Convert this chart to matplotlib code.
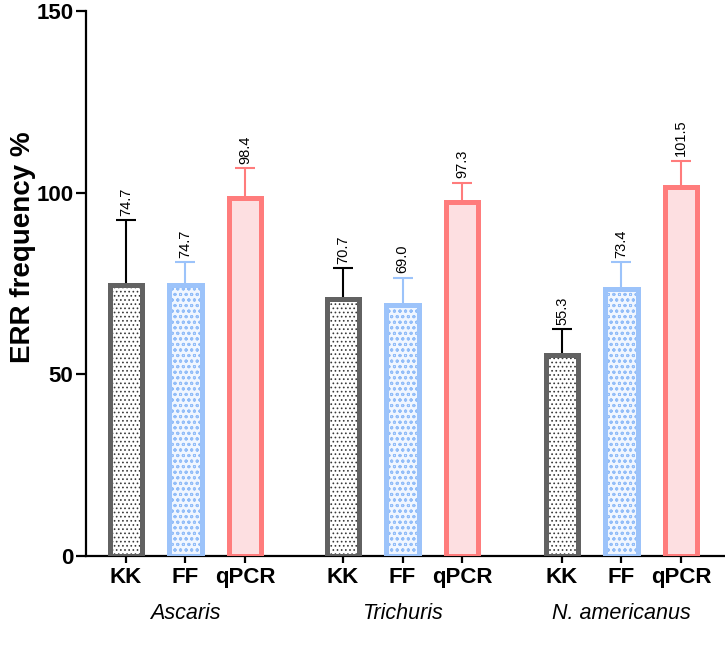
import matplotlib
matplotlib.use("Agg")
import matplotlib.pyplot as plt
import numpy as np

plt.rcParams['font.family'] = ['Liberation Sans', 'DejaVu Sans']
plt.rcParams['hatch.linewidth'] = 0.7

groups = ["Ascaris", "Trichuris", "N. americanus"]
methods = ["KK", "FF", "qPCR"]
means = {
    "KK": [74.7, 70.7, 55.3],
    "FF": [74.7, 69.0, 73.4],
    "qPCR": [98.4, 97.3, 101.5],
}
err_up = {
    "KK": [17.7, 8.5, 7.1],
    "FF": [6.1, 7.5, 7.4],
    "qPCR": [8.3, 5.4, 7.3],
}
group_starts = [0.0, 3.65, 7.33]

edge_colors = {"KK": "#626262", "FF": "#9CC3FA", "qPCR": "#FF7C7C"}
face_colors = {"KK": "#FFFFFF", "FF": "#F0F6FF", "qPCR": "#FDDFE1"}
hatch_colors = {"KK": "#3A3A3A", "FF": "#92BDF8", "qPCR": None}
hatches = {"KK": "....", "FF": "ooo", "qPCR": None}
err_colors = {"KK": "#000000", "FF": "#9CC3FA", "qPCR": "#FF7C7C"}

fig = plt.figure(figsize=(7.25, 6.68), dpi=100)
y0_px, y150_px = 556.0, 11.0
ax = fig.add_axes([86/725, (668-y0_px)/668, 1-86/725, (y0_px-y150_px)/668])

width = 0.55
xticks = []
xlabels = []
for gi, g in enumerate(groups):
    for mi, m in enumerate(methods):
        x = group_starts[gi] + mi
        v = means[m][gi]
        e = err_up[m][gi]
        xticks.append(x)
        xlabels.append(m)
        ax.errorbar([x], [v], yerr=[[0], [e]], fmt='none', ecolor=err_colors[m],
                    elinewidth=1.5, capsize=7, capthick=1.5, zorder=1)
        if hatches[m]:
            ax.bar(x, v, width=width, color=face_colors[m], edgecolor=hatch_colors[m],
                   hatch=hatches[m], linewidth=0, zorder=2)
        else:
            ax.bar(x, v, width=width, color=face_colors[m], linewidth=0, zorder=2)
        ax.bar(x, v, width=width, fill=False, edgecolor=edge_colors[m], linewidth=3.6, zorder=3)
        ax.text(x, v + e + 1.3, f"{v:.1f}", rotation=90, ha='center', va='bottom',
                fontsize=10.5, color='black')
    ax.text(group_starts[gi] + 1, -15.8, g, style='italic', ha='center', va='center',
            fontsize=15.5)

ax.set_xlim(-0.672, 10.07)
ax.set_ylim(0, 150)
ax.set_yticks([0, 50, 100, 150])
ax.set_yticklabels(["0", "50", "100", "150"], fontsize=16, fontweight='bold')
ax.set_xticks(xticks)
ax.set_xticklabels(xlabels, fontsize=16, fontweight='bold')
ax.tick_params(axis='y', direction='out', length=7, width=1.6, pad=2)
ax.tick_params(axis='x', direction='out', length=5, width=1.6, pad=3)
for s in ['top', 'right']:
    ax.spines[s].set_visible(False)
ax.spines['left'].set_linewidth(1.6)
ax.spines['bottom'].set_linewidth(1.6)
ax.set_ylabel("ERR frequency %", fontsize=20, fontweight='bold')
ax.yaxis.set_label_coords(-0.078, (556 - 247) / (556 - 11))

fig.savefig("out.png", dpi=100)
